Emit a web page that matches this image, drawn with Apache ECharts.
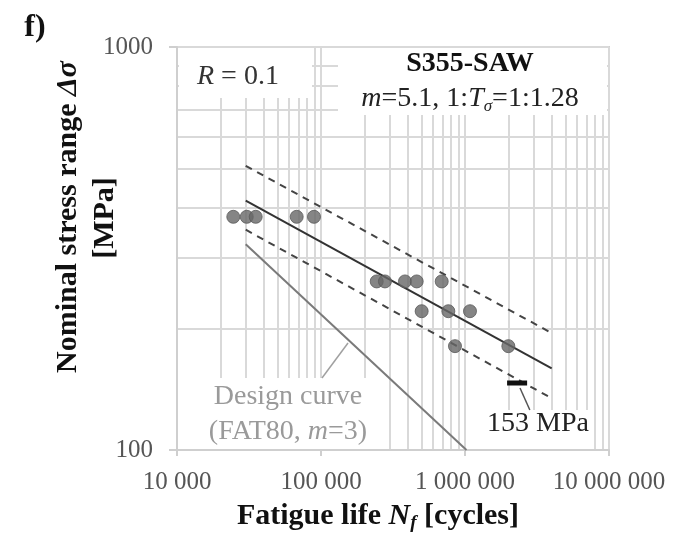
<!DOCTYPE html>
<html><head><meta charset="utf-8">
<script src="https://cdn.jsdelivr.net/npm/echarts@6/dist/echarts.min.js"></script>
<style>html,body{margin:0;padding:0;background:#fff}#c{width:679px;height:537px}</style>
</head><body><div id="c"></div>
<script>
// ---- data ----
const testCycles = [24600, 30500, 35200, 67800, 89400, 243700, 278000, 383000, 462000, 689000, 500000, 766000, 1083000, 852000, 2000000];
const testStress = [379, 379, 379, 379, 379, 262, 262, 262, 262, 262, 221, 221, 221, 181, 181];
const curveCycles = [30000, 4000000];
const meanStress = [416, 159.5];
const upperStress = [507, 195];
const lowerStress = [352, 134.4];
const designCycles = [30000, 1024000];
const designStress = [324, 100];
const markCycles = [1960000, 2700000];
const markStress = [146.7, 146.7];
const designLeaderCycles = [101600, 154000];
const designLeaderStress = [150.9, 184.3];
const markLeaderCycles = [2410000, 2820000];
const markLeaderStress = [142.5, 125.7];
const xMajorTicks = [10000, 100000, 1000000, 10000000];
const yMajorTicks = [100, 1000];
const xMinorGrid = [20000, 30000, 40000, 50000, 60000, 70000, 80000, 90000,
  200000, 300000, 400000, 500000, 600000, 700000, 800000, 900000,
  2000000, 3000000, 4000000, 5000000, 6000000, 7000000, 8000000, 9000000];
const yMinorGrid = [200, 300, 400, 500, 600, 700, 800, 900];

const F = 'Liberation Serif';
const pair = (xs, ys) => xs.map((x, i) => [x, ys[i]]);
const fmtThousands = v => String(Math.round(v)).replace(/\B(?=(\d{3})+(?!\d))/g, ' ');

const chart = echarts.init(document.getElementById('c'), null, {renderer: 'canvas'});
const gridColor = '#d9d9d9';

const option = {
  animation: false,
  grid: {left: 177, top: 47, width: 432, height: 403, show: true, borderColor: '#cfcfcf', borderWidth: 2, backgroundColor: '#fff'},
  xAxis: {
    type: 'log', logBase: 10, min: xMajorTicks[0], max: xMajorTicks[xMajorTicks.length - 1],
    axisLine: {show: true, lineStyle: {color: '#cfcfcf', width: 2}},
    axisTick: {show: true, length: 6, lineStyle: {color: '#cfcfcf', width: 2}},
    axisLabel: {fontFamily: F, fontSize: 25, color: '#555', margin: 20, formatter: fmtThousands},
    splitLine: {show: true, lineStyle: {color: gridColor, width: 2}}
  },
  yAxis: {
    type: 'log', logBase: 10, min: yMajorTicks[0], max: yMajorTicks[yMajorTicks.length - 1],
    axisLine: {show: true, lineStyle: {color: '#cfcfcf', width: 2}},
    axisTick: {show: true, length: 8, lineStyle: {color: '#cfcfcf', width: 2}},
    axisLabel: {fontFamily: F, fontSize: 25, color: '#555', margin: 24, formatter: v => String(Math.round(v))},
    splitLine: {show: true, lineStyle: {color: gridColor, width: 2}}
  },
  series: [
    {
      type: 'line', data: [], z: 0, silent: true,
      markLine: {
        z: 0, silent: true, symbol: 'none', label: {show: false}, animation: false,
        lineStyle: {color: gridColor, width: 2, type: 'solid'},
        emphasis: {disabled: true},
        data: xMinorGrid.map(v => ({xAxis: v})).concat(yMinorGrid.map(v => ({yAxis: v})))
      }
    },
    {type: 'line', z: 3, data: pair(designCycles, designStress), showSymbol: false, symbol: 'none',
      lineStyle: {color: '#7a7a7a', width: 2}},
    {type: 'line', z: 3, data: pair(curveCycles, meanStress), showSymbol: false, symbol: 'none',
      lineStyle: {color: '#333', width: 2}},
    {type: 'line', z: 3, data: pair(curveCycles, upperStress), showSymbol: false, symbol: 'none',
      lineStyle: {color: '#444', width: 2, type: [7, 6]}},
    {type: 'line', z: 3, data: pair(curveCycles, lowerStress), showSymbol: false, symbol: 'none',
      lineStyle: {color: '#444', width: 2, type: [7, 6]}},
    {type: 'line', z: 3, data: pair(designLeaderCycles, designLeaderStress), showSymbol: false, symbol: 'none',
      lineStyle: {color: '#a0a0a0', width: 1.5}},
    {type: 'line', z: 3, data: pair(markLeaderCycles, markLeaderStress), showSymbol: false, symbol: 'none',
      lineStyle: {color: '#555', width: 1.5}},
    {type: 'line', z: 3, data: pair(markCycles, markStress), showSymbol: false, symbol: 'none',
      lineStyle: {color: '#111', width: 5}},
    {type: 'scatter', z: 4, data: pair(testCycles, testStress), symbol: 'circle', symbolSize: 13,
      itemStyle: {color: '#666', borderColor: '#5a5a5a', borderWidth: 1}}
  ],
  graphic: [
    {type: 'rect', z: 1, shape: {x: 179, y: 48, width: 133, height: 50}, style: {fill: '#fff'}},
    {type: 'rect', z: 1, shape: {x: 338, y: 48, width: 269, height: 67}, style: {fill: '#fff'}},
    {type: 'rect', z: 1, shape: {x: 179, y: 378, width: 195, height: 71}, style: {fill: '#fff'}},
    {type: 'rect', z: 1, shape: {x: 484, y: 410, width: 108, height: 39}, style: {fill: '#fff'}},
    {type: 'text', z: 10, x: 35, y: 28, style: {text: 'f)', fontFamily: F, fontSize: 32, fontWeight: 'bold', fill: '#111', textAlign: 'center', textVerticalAlign: 'middle'}},
    {type: 'text', z: 10, x: 197, y: 77, style: {text: '{i|R}{n| = 0.1}', fontFamily: F, fontSize: 28, fill: '#333', textAlign: 'left', textVerticalAlign: 'middle',
      rich: {i: {fontFamily: F, fontSize: 28, fontStyle: 'italic', fill: '#333'}, n: {fontFamily: F, fontSize: 28, fill: '#333'}}}},
    {type: 'text', z: 10, x: 470, y: 64, style: {text: 'S355-SAW', fontFamily: F, fontSize: 28, fontWeight: 'bold', fill: '#111', textAlign: 'center', textVerticalAlign: 'middle'}},
    {type: 'text', z: 10, x: 470, y: 99, style: {text: '{i|m}{n|=5.1, 1:}{i|T}{s|σ}{n|=1:1.28}', fontFamily: F, fontSize: 28, fill: '#222', textAlign: 'center', textVerticalAlign: 'middle',
      rich: {
        n: {fontFamily: F, fontSize: 28, fill: '#222', lineHeight: 32},
        i: {fontFamily: F, fontSize: 28, fontStyle: 'italic', fill: '#222', lineHeight: 32},
        s: {fontFamily: F, fontSize: 17, fontStyle: 'italic', fill: '#222', lineHeight: 17, verticalAlign: 'bottom'}
      }}},
    {type: 'text', z: 10, x: 288, y: 397, style: {text: '{n|Design curve}', fontFamily: F, fontSize: 28, fill: '#9a9a9a', textAlign: 'center', textVerticalAlign: 'middle',
      rich: {n: {fontFamily: F, fontSize: 28, fill: '#9a9a9a'}}}},
    {type: 'text', z: 10, x: 288, y: 432, style: {text: '{n|(FAT80, }{i|m}{n|=3)}', fontFamily: F, fontSize: 28, fill: '#9a9a9a', textAlign: 'center', textVerticalAlign: 'middle',
      rich: {i: {fontFamily: F, fontSize: 28, fontStyle: 'italic', fill: '#9a9a9a'}, n: {fontFamily: F, fontSize: 28, fill: '#9a9a9a'}}}},
    {type: 'text', z: 10, x: 538, y: 424, style: {text: '{n|153 MPa}', fontFamily: F, fontSize: 28, fill: '#222', textAlign: 'center', textVerticalAlign: 'middle',
      rich: {n: {fontFamily: F, fontSize: 28, fill: '#222'}}}},
    {type: 'text', z: 10, x: 378, y: 516, style: {text: '{b|Fatigue life }{bi|N}{s|f}{b| [cycles]}', fontFamily: F, fontSize: 30, fontWeight: 'bold', fill: '#111', textAlign: 'center', textVerticalAlign: 'middle',
      rich: {
        b: {fontFamily: F, fontSize: 30, fontWeight: 'bold', fill: '#111', lineHeight: 34},
        bi: {fontFamily: F, fontSize: 30, fontWeight: 'bold', fontStyle: 'italic', fill: '#111', lineHeight: 34},
        s: {fontFamily: F, fontSize: 19, fontWeight: 'bold', fontStyle: 'italic', fill: '#111', lineHeight: 19, verticalAlign: 'bottom'}
      }}},
    {type: 'text', z: 10, x: 68, y: 217, rotation: Math.PI / 2, style: {text: '{b|Nominal stress range }{bi|Δσ}', fontFamily: F, fontSize: 30, fontWeight: 'bold', fill: '#111', textAlign: 'center', textVerticalAlign: 'middle',
      rich: {
        b: {fontFamily: F, fontSize: 30, fontWeight: 'bold', fill: '#111'},
        bi: {fontFamily: F, fontSize: 30, fontWeight: 'bold', fontStyle: 'italic', fill: '#111'}
      }}},
    {type: 'text', z: 10, x: 105, y: 218, rotation: Math.PI / 2, style: {text: '[MPa]', fontFamily: F, fontSize: 30, fontWeight: 'bold', fill: '#111', textAlign: 'center', textVerticalAlign: 'middle'}}
  ]
};
chart.setOption(option);
</script>
</body></html>
